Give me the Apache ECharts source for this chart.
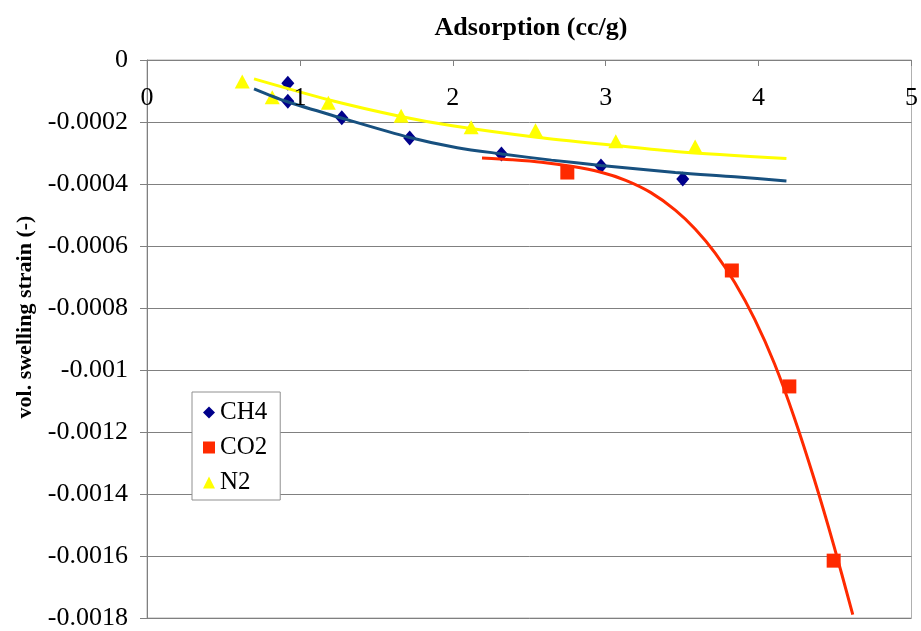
<!DOCTYPE html>
<html>
<head>
<meta charset="utf-8">
<script src="https://cdn.jsdelivr.net/npm/echarts@6/dist/echarts.min.js"></script>
<style>
  html, body { margin: 0; padding: 0; background: #ffffff; }
  #chart { width: 921px; height: 631px; }
</style>
</head>
<body>
<div id="chart"></div>
<script>
// Measured points: adsorption (cc/g) vs volumetric swelling strain
const ch4Adsorption = [0.921, 0.921, 1.274, 1.718, 2.318, 2.969, 3.504];
const ch4Strain = [-0.000075, -0.000133, -0.000186, -0.000252, -0.000303, -0.000342, -0.000384];

const co2Adsorption = [2.749, 3.825, 4.201, 4.491];
const co2Strain = [-0.000363, -0.000679, -0.001053, -0.001615];

const n2Adsorption = [0.623, 0.819, 1.186, 1.662, 2.120, 2.541, 3.066, 3.585];
const n2Strain = [-0.000069, -0.000120, -0.000138, -0.000180, -0.000217, -0.000227, -0.000262, -0.000279];

// Trend curves, sampled along each fitted line
const ch4TrendX = [0.700, 0.914, 1.271, 1.718, 2.029, 2.321, 2.645, 2.969, 3.455, 3.844, 4.182];
const ch4TrendY = [-0.000093, -0.000134, -0.000187, -0.000250, -0.000283, -0.000303, -0.000323, -0.000340, -0.000363, -0.000377, -0.000390];

const n2TrendX = [0.700, 1.186, 1.660, 1.997, 2.548, 3.066, 3.455, 4.182];
const n2TrendY = [-0.000061, -0.000128, -0.000182, -0.000212, -0.000249, -0.000276, -0.000295, -0.000318];

const co2TrendX = [2.191, 2.386, 2.580, 2.775, 2.969, 3.131, 3.293, 3.455, 3.585, 3.715, 3.844, 3.974, 4.104, 4.233, 4.363, 4.493, 4.616];
const co2TrendY = [-0.000316, -0.000322, -0.000330, -0.000343, -0.000362, -0.000388, -0.000427, -0.000484, -0.000545, -0.000622, -0.000718, -0.000836, -0.000980, -0.001153, -0.001351, -0.001568, -0.001789];

const seriesNames = ['CH4', 'CO2', 'N2'];
const xTitle = 'Adsorption (cc/g)';
const yTitle = 'vol. swelling strain (-)';

const zip = (xs, ys) => xs.map((x, i) => [x, ys[i]]);

const FONT = '"Liberation Serif", "Times New Roman", serif';
const COLORS = { ch4: '#00008b', co2: '#ff2a00', n2: '#ffff00', ch4Line: '#17507f' };

const chart = echarts.init(document.getElementById('chart'), null, { renderer: 'canvas' });

const trendLine = (name, xs, ys, color) => ({
  name, type: 'line', z: 4, smooth: 0.3,
  showSymbol: false, silent: true,
  lineStyle: { color, width: 3 },
  data: zip(xs, ys)
});

chart.setOption({
  backgroundColor: '#ffffff',
  animation: false,
  title: {
    text: xTitle,
    left: 526,
    top: 10,
    textAlign: 'center',
    textStyle: { fontFamily: FONT, fontSize: 26, fontWeight: 'bold', color: '#000' }
  },
  graphic: [{
    type: 'text',
    x: 25,
    y: 317,
    rotation: Math.PI / 2,
    style: {
      text: yTitle,
      font: 'bold 22px ' + FONT,
      fill: '#000',
      align: 'center',
      verticalAlign: 'middle'
    }
  }],
  grid: {
    left: 147, right: 3, top: 60, bottom: 10,
    show: true,
    borderColor: '#b0b0b0',
    borderWidth: 1,
    backgroundColor: 'transparent'
  },
  legend: {
    orient: 'vertical',
    left: 192,
    top: 392,
    padding: [8, 13, 5, 11],
    itemGap: 10,
    itemWidth: 12,
    itemHeight: 12,
    backgroundColor: '#ffffff',
    borderColor: '#909090',
    borderWidth: 1,
    textStyle: { fontFamily: FONT, fontSize: 25, color: '#000' },
    data: [
      { name: seriesNames[0], icon: 'diamond' },
      { name: seriesNames[1], icon: 'rect' },
      { name: seriesNames[2], icon: 'triangle' }
    ]
  },
  xAxis: {
    type: 'value',
    position: 'top',
    min: 0, max: 5, interval: 1,
    z: 5,
    axisLine: { show: true, onZero: false, lineStyle: { color: '#808080', width: 1 } },
    axisTick: { show: true, inside: true, length: 6, lineStyle: { color: '#808080' } },
    axisLabel: {
      inside: true, margin: 25,
      showMinLabel: true, showMaxLabel: true,
      fontFamily: FONT, fontSize: 26, color: '#000'
    },
    splitLine: { show: false }
  },
  yAxis: {
    type: 'value',
    min: -0.0018, max: 0, interval: 0.0002,
    axisLine: { show: true, lineStyle: { color: '#808080', width: 1 } },
    axisTick: { show: true, inside: false, length: 7, lineStyle: { color: '#808080' } },
    axisLabel: {
      margin: 19,
      fontFamily: FONT, fontSize: 26, color: '#000',
      formatter: v => String(+v.toFixed(4))
    },
    splitLine: { show: true, lineStyle: { color: '#808080', width: 1 } }
  },
  series: [
    {
      name: seriesNames[0], type: 'scatter', z: 3,
      symbol: 'diamond', symbolSize: [13, 15],
      itemStyle: { color: COLORS.ch4, opacity: 1 },
      data: zip(ch4Adsorption, ch4Strain)
    },
    {
      name: seriesNames[1], type: 'scatter', z: 3,
      symbol: 'rect', symbolSize: 14,
      itemStyle: { color: COLORS.co2, opacity: 1 },
      data: zip(co2Adsorption, co2Strain)
    },
    {
      name: seriesNames[2], type: 'scatter', z: 3,
      symbol: 'triangle', symbolSize: [15, 14],
      itemStyle: { color: COLORS.n2, opacity: 1 },
      data: zip(n2Adsorption, n2Strain)
    },
    trendLine('CH4 trend', ch4TrendX, ch4TrendY, COLORS.ch4Line),
    trendLine('N2 trend', n2TrendX, n2TrendY, COLORS.n2),
    trendLine('CO2 trend', co2TrendX, co2TrendY, COLORS.co2)
  ]
});
</script>
</body>
</html>
